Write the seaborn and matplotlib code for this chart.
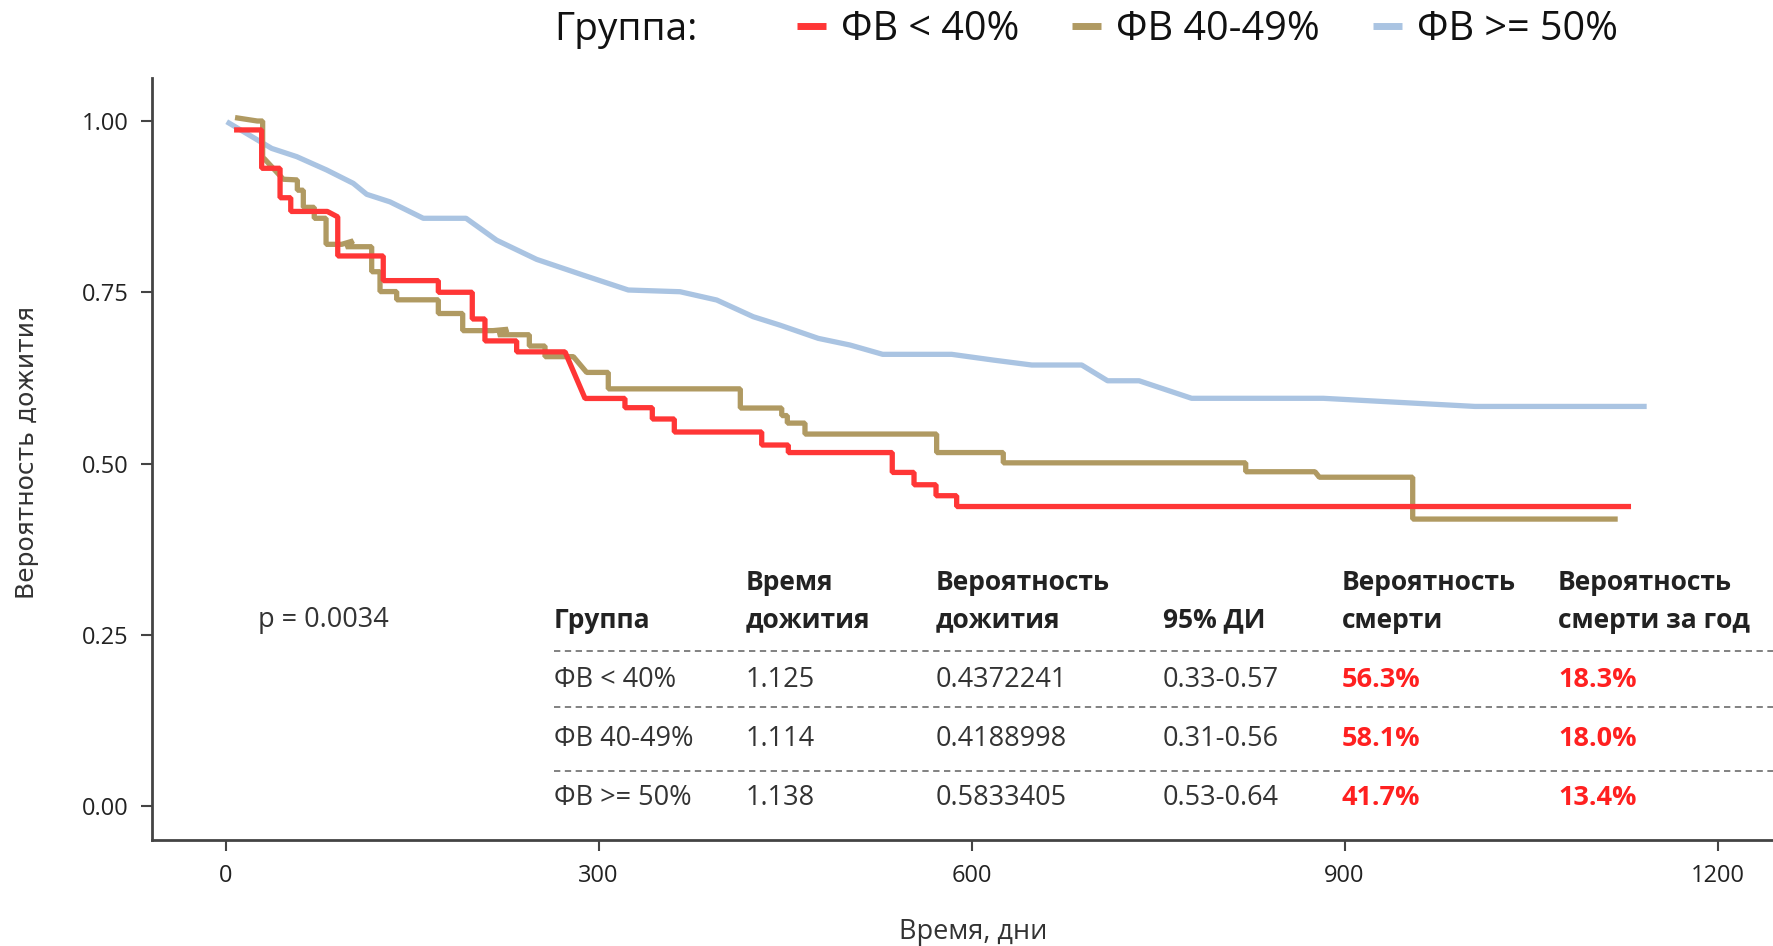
import matplotlib
matplotlib.use("Agg")
import matplotlib.pyplot as plt
import pandas as pd
import seaborn as sns

# ---- data -----------------------------------------------------------------
groups = ["ФВ < 40%", "ФВ 40-49%", "ФВ >= 50%"]
colors = ["#FF3636", "#B09A62", "#AAC4E2"]

# Kaplan-Meier curve vertices (time in days, survival probability)
red_time = [6.8, 29.0, 29.0, 43.8, 43.8, 52.4, 52.4, 81.8, 90.2, 90.2, 126.8, 126.8,
            171.1, 171.1, 198.4, 198.4, 208.6, 208.6, 234.1, 234.1, 273.0, 289.1,
            321.2, 321.2, 343.2, 343.2, 360.9, 360.9, 431.2, 431.2, 452.6, 452.6,
            536.2, 536.2, 553.7, 553.7, 571.4, 571.4, 588.0, 588.0, 1130.4]
red_surv = [0.987, 0.987, 0.931, 0.931, 0.888, 0.888, 0.868, 0.868, 0.860, 0.803,
            0.803, 0.767, 0.767, 0.750, 0.750, 0.711, 0.711, 0.679, 0.679, 0.663,
            0.663, 0.595, 0.595, 0.5815, 0.5815, 0.565, 0.565, 0.546, 0.546, 0.527,
            0.527, 0.516, 0.516, 0.487, 0.487, 0.469, 0.469, 0.453, 0.453,
            0.4372241, 0.4372241]

tan_time = [7.6, 25.5, 29.8, 29.8, 31.1, 46.4, 57.7, 57.7, 62.5, 62.5, 71.3, 71.3,
            80.8, 80.8, 93.4, 102.7, 96.8, 117.5, 117.5, 124.2, 124.2, 137.6, 137.6,
            171.1, 171.1, 190.7, 190.7, 215.1, 227.1, 219.1, 244.3, 244.3, 256.9,
            256.9, 279.7, 290.4, 307.8, 307.8, 414.0, 414.0, 447.3, 447.3, 451.8,
            451.8, 466.0, 466.0, 571.9, 571.9, 625.5, 625.5, 820.5, 820.5, 876.2,
            879.7, 954.8, 954.8, 1119.7]
tan_surv = [1.005, 1.000, 1.000, 0.945, 0.945, 0.915, 0.914, 0.899, 0.899, 0.874,
            0.874, 0.858, 0.858, 0.820, 0.820, 0.825, 0.8165, 0.8165, 0.780, 0.780,
            0.751, 0.751, 0.739, 0.739, 0.719, 0.719, 0.694, 0.694, 0.696, 0.688,
            0.688, 0.6715, 0.6715, 0.656, 0.656, 0.633, 0.633, 0.609, 0.609, 0.581,
            0.581, 0.570, 0.570, 0.559, 0.559, 0.543, 0.543, 0.516, 0.516, 0.501,
            0.501, 0.488, 0.488, 0.480, 0.480, 0.4188998, 0.4188998]

blue_time = [0.9, 37.1, 57.2, 81.3, 102.7, 113.5, 132.2, 159.0, 193.4, 218.0, 250.2,
             287.7, 323.9, 365.5, 395.0, 424.4, 445.9, 476.7, 502.2, 528.5, 584.0,
             617.5, 648.4, 688.6, 709.4, 734.7, 777.0, 882.9, 1004.9, 1143.0]
blue_surv = [0.999, 0.960, 0.948, 0.9285, 0.909, 0.893, 0.882, 0.858, 0.858, 0.826,
             0.798, 0.775, 0.7533, 0.7508, 0.7387, 0.7143, 0.702, 0.6827, 0.673,
             0.6594, 0.6594, 0.651, 0.6438, 0.6438, 0.6208, 0.6208, 0.5952, 0.5952,
             0.5833405, 0.5833405]

x_ticks = [0, 300, 600, 900, 1200]
y_ticks = [0.00, 0.25, 0.50, 0.75, 1.00]
y_ticklabels = ["0.00", "0.25", "0.50", "0.75", "1.00"]

p_value_text = "p = 0.0034"

# summary table
tbl_headers = [("", "Группа"), ("Время", "дожития"), ("Вероятность", "дожития"),
               ("", "95% ДИ"), ("Вероятность", "смерти"), ("Вероятность", "смерти за год")]
tbl_group = groups
tbl_time = ["1.125", "1.114", "1.138"]
tbl_surv = ["0.4372241", "0.4188998", "0.5833405"]
tbl_ci = ["0.33-0.57", "0.31-0.56", "0.53-0.64"]
tbl_death = ["56.3%", "58.1%", "41.7%"]
tbl_death_year = ["18.3%", "18.0%", "13.4%"]

# ---- figure ---------------------------------------------------------------
W, H = 1773, 946
sns.set_theme(style="ticks")
plt.rcParams["font.family"] = ["Open Sans", "DejaVu Sans"]

fig = plt.figure(figsize=(W / 100, H / 100), dpi=100)
ax = fig.add_axes([152 / W, 1 - 840 / H, (W - 152) / W, (840 - 78) / H])

frames = []
for g, t, s in [(groups[0], red_time, red_surv),
                (groups[1], tan_time, tan_surv),
                (groups[2], blue_time, blue_surv)]:
    frames.append(pd.DataFrame({"time": t, "surv": s, "group": g}))
df = pd.concat(frames, ignore_index=True)

# draw the blue curve first, red last
draw_order = [groups[2], groups[1], groups[0]]
for g in draw_order:
    sub = df[df["group"] == g]
    sns.lineplot(data=sub, x="time", y="surv", ax=ax, sort=False, estimator=None,
                 color=colors[groups.index(g)], linewidth=3.8, label=g,
                 solid_joinstyle="bevel", solid_capstyle="butt")

ax.set_xlim(-59.2, 1244.6)
ax.set_ylim(-0.0496, 1.0628)
ax.set_xticks(x_ticks)
ax.set_xticklabels([str(v) for v in x_ticks])
ax.set_yticks(y_ticks)
ax.set_yticklabels(y_ticklabels)
ax.tick_params(axis="both", labelsize=17, length=8, width=1.5, color="#444444",
               labelcolor="#222222", pad=9)
for side in ["top", "right"]:
    ax.spines[side].set_visible(False)
for side in ["left", "bottom"]:
    ax.spines[side].set_color("#444444")
    ax.spines[side].set_linewidth(2)
ax.set_xlabel("")
ax.set_ylabel("")

# axis titles
fig.text(973 / W, 1 - 932 / H, "Время, дни", ha="center", va="center",
         fontsize=19.5, color="#333333")
fig.text(27 / W, 1 - 452 / H, "Вероятность дожития", ha="center", va="center",
         rotation=90, fontsize=18, color="#333333", family=["DejaVu Sans"])

# legend along the top
handles, labels = ax.get_legend_handles_labels()
order = [labels.index(g) for g in groups]
leg = ax.legend([handles[i] for i in order], [labels[i] for i in order],
                loc="center left", bbox_to_anchor=(797 / W, 1 - 30 / H),
                bbox_transform=fig.transFigure, ncol=3, frameon=False,
                fontsize=28.5, handlelength=0.72, handletextpad=0.38,
                columnspacing=1.35, borderpad=0, borderaxespad=0)
for line in leg.get_lines():
    line.set_linewidth(5)
for txt in leg.get_texts():
    txt.set_color("#111111")
fig.text(554 / W, 1 - 30 / H, "Группа:", ha="left", va="center", fontsize=28,
         color="#111111")

# p-value
fig.text(258 / W, 1 - 620 / H, p_value_text, ha="left", va="center",
         fontsize=19.5, color="#333333")

# summary table
col_x = [554, 746, 936, 1163, 1342, 1558]
head_y1, head_y2 = 583, 620
row_y = [680, 739, 798]
rule_y = [651, 707, 771]
for cx, (h1, h2) in zip(col_x, tbl_headers):
    if h1:
        fig.text(cx / W, 1 - head_y1 / H, h1, ha="left", va="center", fontsize=19,
                 fontweight="bold", color="#222222")
    fig.text(cx / W, 1 - head_y2 / H, h2, ha="left", va="center", fontsize=19,
             fontweight="bold", color="#222222")

columns = [tbl_group, tbl_time, tbl_surv, tbl_ci, tbl_death, tbl_death_year]
for ci, (cx, col) in enumerate(zip(col_x, columns)):
    red_col = ci >= 4
    for ry, val in zip(row_y, col):
        fig.text(cx / W, 1 - ry / H, val, ha="left", va="center", fontsize=19.5,
                 color="#FF2020" if red_col else "#333333",
                 fontweight="bold" if red_col else "normal")

for ry in rule_y:
    fig.add_artist(plt.Line2D([554 / W, 1.0], [1 - ry / H, 1 - ry / H],
                              transform=fig.transFigure, color="#777777",
                              linewidth=1.3, linestyle=(0, (3.5, 2.5))))

fig.savefig("out.png", dpi=100)
